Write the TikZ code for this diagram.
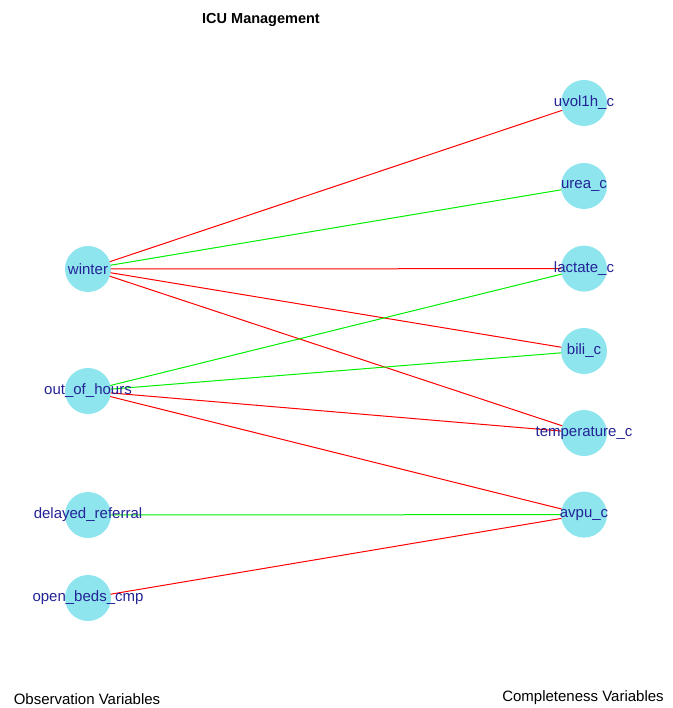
\documentclass[tikz,border=0pt]{standalone}
\usepackage{fontspec}
\setmainfont{Liberation Sans}

\definecolor{vfill}{HTML}{8EE5EE}
\definecolor{vtext}{RGB}{35,35,150}
\definecolor{posedge}{HTML}{00EE00}
\definecolor{negedge}{HTML}{FF0000}

\tikzset{
	vtx/.style={circle, fill=vfill, minimum size=46pt, inner sep=0pt},
	vlabel/.style={text=vtext, font=\fontsize{15}{17}\selectfont, inner sep=0pt},
	posline/.style={draw=posedge, line width=1pt},
	negline/.style={draw=negedge, line width=1pt}
}

\begin{document}
\begin{tikzpicture}[x=1pt, y=-1pt, line cap=round, line join=round]
		
		\useasboundingbox (0,0) rectangle (672,708);
		
		% --- title ---
		\node[font=\fontsize{14.5}{17}\selectfont\bfseries] (title) at (261,20) {ICU Management};
		
		% --- Left column: observation variables ---
		\node[vtx] (winter) at (88,269) {};
		\node[vtx] (outhours) at (88,391) {};
		\node[vtx] (delayed) at (88,515) {};
		\node[vtx] (openbeds) at (88,598) {};
		
		% --- Right column: completeness variables ---
		\node[vtx] (uvol) at (584,103) {};
		\node[vtx] (urea) at (584,186) {};
		\node[vtx] (lactate) at (584,268.6) {};
		\node[vtx] (bili) at (584,351) {};
		\node[vtx] (temp) at (584,433) {};
		\node[vtx] (avpu) at (584,514.6) {};
		
		% --- edges ---
		% winter
		\path[negline] (winter) -- (uvol);
		\path[posline] (winter) -- (urea);
		\path[negline] (winter) -- (lactate);
		\path[negline] (winter) -- (bili);
		\path[negline] (winter) -- (temp);
		% out of hours
		\path[posline] (outhours) -- (lactate);
		\path[posline] (outhours) -- (bili);
		\path[negline] (outhours) -- (temp);
		\path[negline] (outhours) -- (avpu);
		% delayed referral, open beds
		\path[posline] (delayed) -- (avpu);
		\path[negline] (openbeds) -- (avpu);
		
		% --- vertex labels on top of the edges ---
		\node[vlabel] (winter-t) at (winter) {winter};
		\node[vlabel] (outhours-t) at (outhours) {out\_of\_hours};
		\node[vlabel] (delayed-t) at (delayed) {delayed\_referral};
		\node[vlabel] (openbeds-t) at (openbeds) {open\_beds\_cmp};
		\node[vlabel] (uvol-t) at (uvol) {uvol1h\_c};
		\node[vlabel] (urea-t) at (urea) {urea\_c};
		\node[vlabel] (lactate-t) at (lactate) {lactate\_c};
		\node[vlabel] (bili-t) at (bili) {bili\_c};
		\node[vlabel] (temp-t) at (temp) {temperature\_c};
		\node[vlabel] (avpu-t) at (avpu) {avpu\_c};
		
		% --- column captions ---
		\node[font=\fontsize{15}{17}\selectfont] (obslabel) at (87,699) {Observation Variables};
		\node[font=\fontsize{15}{17}\selectfont] (complabel) at (583,698) {Completeness Variables};
		
	\end{tikzpicture}
\end{document}
